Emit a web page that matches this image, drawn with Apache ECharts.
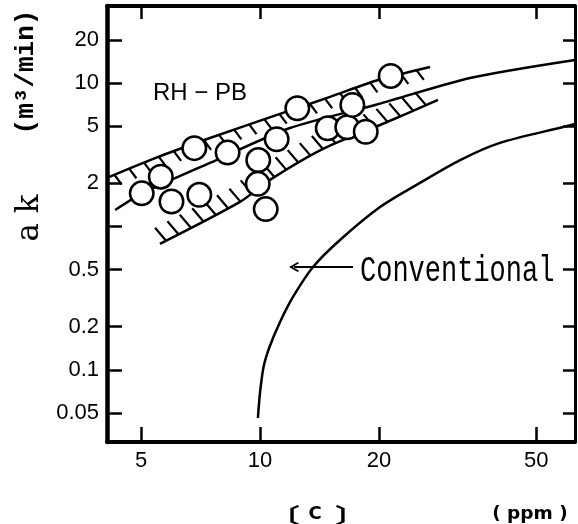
<!DOCTYPE html>
<html><head><meta charset="utf-8">
<script src="https://cdn.jsdelivr.net/npm/echarts@6/dist/echarts.min.js"></script>
<style>html,body{margin:0;padding:0;background:#fff}#c{width:578px;height:524px}</style>
</head><body><div id="c"></div>
<script>
// ---- data ----
const xTicks = [5, 10, 20, 50];
const yTicks = [0.05, 0.1, 0.2, 0.5, 1, 2, 5, 10, 20];
const yTickLabels = [0.05, 0.1, 0.2, 0.5, 2, 5, 10, 20];

const pointsC  = [5.02, 5.61, 5.97, 6.82, 7.02, 8.28, 9.90, 9.87, 10.34, 11.02, 12.43, 14.84, 16.63, 17.13, 18.52, 21.42];
const pointsAk = [1.70, 2.22, 1.49, 3.51, 1.66, 3.27, 2.90, 1.98, 1.32, 4.05, 6.66, 4.83, 4.91, 7.03, 4.57, 11.19];

const upperC  = [4.10, 5.27, 7.47, 11.43, 15.04, 19.89, 26.94];
const upperAk = [2.18, 2.90, 4.13, 6.18, 7.99, 10.49, 12.93];
const midC    = [4.30, 5.06, 7.47, 11.91, 19.55, 34.02, 62.7];
const midAk   = [1.30, 1.71, 2.77, 4.85, 7.02, 10.84, 14.47];
const lowerC  = [5.58, 8.90, 10.60, 14.44, 20.13, 28.22];
const lowerAk = [0.754, 1.48, 2.11, 3.47, 5.09, 7.61];

const convC  = [9.88, 10.0, 10.21, 10.57, 11.24, 12.12, 13.62, 15.94, 20.13, 25.4, 32.1, 40.5, 58.5, 62.7];
const convAk = [0.0461, 0.0689, 0.1046, 0.1442, 0.2154, 0.3219, 0.521, 0.804, 1.365, 2.01, 2.90, 3.82, 4.93, 5.18];

const arrowFrom = [17.2, 0.521];
const arrowTo   = [12.2, 0.521];

// ---- helpers ----
const zip = (a, b) => a.map((v, i) => [v, b[i]]);
const fmt = v => String(+(+v).toPrecision(3));

function hatchRender(xs, ys, spacing, len, dx, dy) {
  return function (params, api) {
    if (params.dataIndex !== 0) return { type: 'group', children: [] };
    const pts = xs.map((x, i) => api.coord([x, ys[i]]));
    const children = [];
    let next = spacing * 0.5, travelled = 0;
    for (let i = 0; i < pts.length - 1; i++) {
      const a = pts[i], b = pts[i + 1];
      const seg = Math.hypot(b[0] - a[0], b[1] - a[1]);
      while (next <= travelled + seg) {
        const t = (next - travelled) / seg;
        const px = a[0] + t * (b[0] - a[0]), py = a[1] + t * (b[1] - a[1]);
        children.push({ type: 'line', shape: { x1: px, y1: py, x2: px + dx * len, y2: py + dy * len },
          style: { stroke: '#000', lineWidth: 2.2 } });
        next += spacing;
      }
      travelled += seg;
    }
    return { type: 'group', children };
  };
}

const lineBase = { type: 'line', showSymbol: false, symbol: 'none', smooth: 0.25, z: 3,
  lineStyle: { color: '#000', width: 2.5 }, silent: true };

const labelFont = { fontSize: 22, color: '#000', fontFamily: '"Liberation Sans", Arial, sans-serif' };
const chevron = 'path://M5,0 L10,8.6 L8.7,10 L5,3.4 L1.3,10 L0,8.6 Z';

const chart = echarts.init(document.getElementById('c'), null, { renderer: 'canvas' });
chart.setOption({
  animation: false,
  backgroundColor: '#fff',
  grid: { left: 107, right: 3, top: 6, bottom: 82, outerBoundsMode: 'none', containLabel: false },
  xAxis: [
    { type: 'log', logBase: 10, min: 4.1, max: 62.7, position: 'bottom',
      axisLine: { show: true, onZero: false, lineStyle: { color: '#000', width: 4 } },
      axisTick: { show: true, inside: true, length: 15, customValues: xTicks, lineStyle: { color: '#000', width: 2.5 } },
      axisLabel: Object.assign({ customValues: xTicks, margin: 8, formatter: fmt }, labelFont),
      splitLine: { show: false }, minorTick: { show: false } },
    { type: 'log', logBase: 10, min: 4.1, max: 62.7, position: 'top',
      axisLine: { show: true, onZero: false, lineStyle: { color: '#000', width: 4 } },
      axisTick: { show: true, inside: true, length: 13, customValues: xTicks, lineStyle: { color: '#000', width: 2.5 } },
      axisLabel: { show: false }, splitLine: { show: false } }
  ],
  yAxis: [
    { type: 'log', logBase: 10, min: 0.03137, max: 34.4, position: 'left',
      axisLine: { show: true, onZero: false, lineStyle: { color: '#000', width: 4.5 } },
      axisTick: { show: true, inside: true, length: 15, customValues: yTicks, lineStyle: { color: '#000', width: 2.5 } },
      axisLabel: Object.assign({ customValues: yTickLabels, margin: 8, formatter: fmt }, labelFont),
      splitLine: { show: false } },
    { type: 'log', logBase: 10, min: 0.03137, max: 34.4, position: 'right',
      axisLine: { show: true, onZero: false, lineStyle: { color: '#000', width: 3 } },
      axisTick: { show: true, inside: true, length: 12, customValues: yTicks, lineStyle: { color: '#000', width: 2.5 } },
      axisLabel: { show: false }, splitLine: { show: false } }
  ],
  series: [
    Object.assign({}, lineBase, { name: 'upper', data: zip(upperC, upperAk) }),
    Object.assign({}, lineBase, { name: 'mid', data: zip(midC, midAk) }),
    Object.assign({}, lineBase, { name: 'lower', data: zip(lowerC, lowerAk) }),
    Object.assign({}, lineBase, { name: 'Conventional', smooth: 0.3, data: zip(convC, convAk),
      markLine: { silent: true, symbol: ['none', chevron], symbolSize: [10, 10],
        itemStyle: { color: '#000' },
        lineStyle: { color: '#000', width: 2, type: 'solid' }, label: { show: false },
        data: [[{ coord: arrowFrom }, { coord: arrowTo }]] } }),
    { type: 'custom', name: 'hatchUpper', z: 2, silent: true, data: zip(upperC, upperAk),
      renderItem: hatchRender(upperC, upperAk, 16, 12, 0.6, 0.8) },
    { type: 'custom', name: 'hatchLower', z: 2, silent: true, data: zip(lowerC, lowerAk),
      renderItem: hatchRender(lowerC, lowerAk, 14, 17, -0.65, -0.76) },
    { type: 'scatter', name: 'RH-PB', z: 10, symbol: 'circle', symbolSize: 23.5, silent: true,
      itemStyle: { color: '#fff', borderColor: '#000', borderWidth: 2.5, opacity: 1 },
      data: zip(pointsC, pointsAk) }
  ],
  graphic: [
    { type: 'text', x: 200, y: 93, style: { text: 'RH − PB', fill: '#000',
      font: '24px "Liberation Sans", Arial, sans-serif', textAlign: 'center', textVerticalAlign: 'middle' } },
    { type: 'text', x: 360, y: 271, scaleY: 1.35, style: { text: 'Conventional', fill: '#000',
      font: '27px "Liberation Mono", monospace', textAlign: 'left', textVerticalAlign: 'middle' } },
    { type: 'text', x: 26, y: 72, rotation: Math.PI / 2, style: { text: '(m³/min)', fill: '#000',
      font: 'bold 26px "Liberation Mono", monospace', textAlign: 'center', textVerticalAlign: 'middle' } },
    { type: 'text', x: 30, y: 218, rotation: Math.PI / 2, style: { text: 'a k', fill: '#000',
      font: '31px "DejaVu Serif", serif', textAlign: 'center', textVerticalAlign: 'middle' } },
    { type: 'text', x: 300, y: 515, scaleX: 1.5, style: { text: '〔', fill: '#000',
      font: 'bold 21px "Noto Sans CJK JP", sans-serif', textAlign: 'right', textVerticalAlign: 'middle' } },
    { type: 'text', x: 315, y: 514, style: { text: 'C', fill: '#000',
      font: 'bold 18px "DejaVu Sans", sans-serif', textAlign: 'center', textVerticalAlign: 'middle' } },
    { type: 'text', x: 335, y: 515, scaleX: 1.5, style: { text: '〕', fill: '#000',
      font: 'bold 21px "Noto Sans CJK JP", sans-serif', textAlign: 'left', textVerticalAlign: 'middle' } },
    { type: 'text', x: 530, y: 514, style: { text: '( ppm )', fill: '#000',
      font: 'bold 18.5px "DejaVu Sans", sans-serif', textAlign: 'center', textVerticalAlign: 'middle' } }
  ]
});
</script></body></html>
